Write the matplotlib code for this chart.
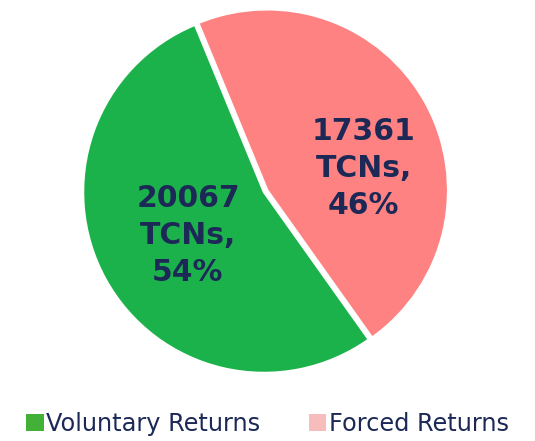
import matplotlib
matplotlib.use("Agg")
import matplotlib.pyplot as plt
from matplotlib.patches import Patch

categories = ["Voluntary Returns", "Forced Returns"]
values = [20067, 17361]
percent_labels = ["54%", "46%"]
wedge_colors = ["#1cb24b", "#ff8282"]
legend_colors = ["#43b037", "#f7bcbc"]
text_color = "#1c2957"

plt.rcParams["font.family"] = ["DejaVu Sans"]

fig = plt.figure(figsize=(5.35, 4.41), dpi=100)
# pie centre ~ (264, 192) px, radius ~ 181 px
r_px = 181
cx, cy = 264, 192
ax = fig.add_axes([(cx - r_px * 1.1) / 535, 1 - (cy + r_px * 1.1) / 441,
                   2 * r_px * 1.1 / 535, 2 * r_px * 1.1 / 441])

wedges, texts, autotexts = ax.pie(
    values,
    colors=wedge_colors,
    startangle=112.4,
    explode=[0, 0.02],
    autopct=lambda p: "",
    pctdistance=0.5,
    wedgeprops=dict(edgecolor="white", linewidth=1.8),
)
ax.set_xlim(-1.1, 1.1)
ax.set_ylim(-1.1, 1.1)
ax.set_aspect("equal")

# labels: count + "TCNs," + percentage
label_pos = [(-0.42, -0.24), (0.55, 0.13)]
for t, v, p, pos in zip(autotexts, values, percent_labels, label_pos):
    t.set_text(f"{v}\nTCNs,\n{p}")
    t.set_position(pos)
    t.set_color(text_color)
    t.set_fontsize(21.5)
    t.set_fontweight("bold")
    t.set_linespacing(1.33)
    t.set_ha("center")
    t.set_va("center")

handles = [Patch(facecolor=c, edgecolor="none") for c in legend_colors]
fig.legend(
    handles,
    categories,
    loc="center",
    bbox_to_anchor=(0.5, 1 - 424 / 441),
    ncol=2,
    frameon=False,
    fontsize=17.3,
    handlelength=0.72,
    handleheight=0.72,
    handletextpad=0.12,
    columnspacing=2.0,
    labelcolor=text_color,
)

fig.savefig("out.png", dpi=100, facecolor="white")
